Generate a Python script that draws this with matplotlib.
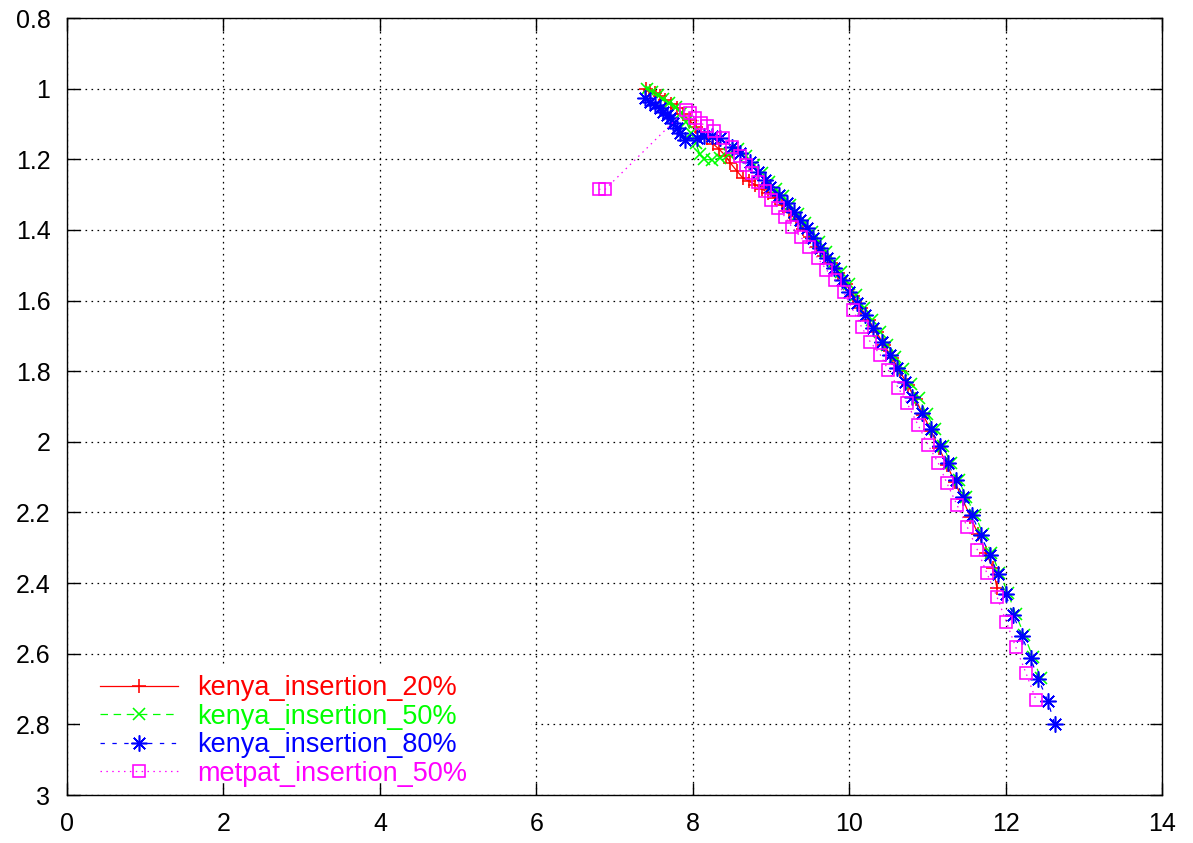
import matplotlib
matplotlib.use("Agg")
import matplotlib.pyplot as plt
from matplotlib.patches import Rectangle

plt.rcParams["font.family"] = ["Liberation Sans", "DejaVu Sans"]

# trayectorias (x, y) de cada serie
k20_x = [7.40, 7.46, 7.52, 7.58, 7.65, 7.72, 7.80, 7.88, 7.96, 8.04, 8.11, 8.18,
         8.26, 8.34, 8.42, 8.48, 8.56, 8.64, 8.72, 8.80, 8.88, 8.96, 9.05, 9.14,
         9.23, 9.32, 9.41, 9.50, 9.59, 9.68, 9.77, 9.86, 9.96, 10.05, 10.15, 10.25,
         10.35, 10.45, 10.55, 10.65, 10.75, 10.85, 10.95, 11.05, 11.15, 11.25, 11.35,
         11.45, 11.55, 11.65, 11.75, 11.84, 11.89]
k20_y = [1.000, 1.006, 1.013, 1.021, 1.031, 1.042, 1.056, 1.072, 1.090, 1.108, 1.124, 1.140,
         1.156, 1.172, 1.190, 1.210, 1.232, 1.253, 1.262, 1.272, 1.283, 1.295, 1.310, 1.330,
         1.350, 1.372, 1.396, 1.420, 1.447, 1.474, 1.495, 1.522, 1.553, 1.587, 1.620, 1.655,
         1.690, 1.727, 1.763, 1.800, 1.840, 1.880, 1.925, 1.970, 2.018, 2.065, 2.113,
         2.162, 2.212, 2.262, 2.315, 2.357, 2.414]

k50_x = [7.42, 7.48, 7.55, 7.62, 7.70, 7.78, 7.85, 7.92, 7.98, 8.04, 8.09, 8.15,
         8.25, 8.35, 8.46, 8.58, 8.68, 8.78, 8.88, 8.97, 9.06, 9.15, 9.25, 9.34,
         9.43, 9.52, 9.62, 9.71, 9.81, 9.90, 10.00, 10.09, 10.19, 10.29, 10.39, 10.49,
         10.59, 10.69, 10.79, 10.89, 10.99, 11.10, 11.20, 11.30, 11.40, 11.50, 11.61,
         11.71, 11.82, 11.92, 12.03, 12.13, 12.24, 12.35, 12.45]
k50_y = [1.000, 1.008, 1.018, 1.028, 1.040, 1.052, 1.068, 1.095, 1.125, 1.155, 1.185, 1.200,
         1.202, 1.196, 1.185, 1.170, 1.190, 1.215, 1.240, 1.265, 1.285, 1.305, 1.330, 1.355,
         1.380, 1.405, 1.435, 1.462, 1.492, 1.520, 1.552, 1.585, 1.620, 1.655, 1.690, 1.725,
         1.760, 1.795, 1.835, 1.875, 1.920, 1.965, 2.012, 2.060, 2.108, 2.157, 2.207,
         2.260, 2.315, 2.370, 2.428, 2.488, 2.548, 2.610, 2.670]

k80_x = [7.39, 7.45, 7.52, 7.58, 7.62, 7.67, 7.71, 7.75, 7.80, 7.84, 7.90, 8.05,
         8.15, 8.25, 8.35, 8.50, 8.61, 8.73, 8.84, 8.92, 8.99, 9.10, 9.21, 9.29,
         9.37, 9.46, 9.54, 9.63, 9.72, 9.80, 9.91, 10.00, 10.10, 10.20, 10.31, 10.42,
         10.52, 10.61, 10.72, 10.80, 10.93, 11.05, 11.16, 11.27, 11.36, 11.46, 11.57,
         11.68, 11.80, 11.90, 12.00, 12.10, 12.21, 12.32, 12.42, 12.54, 12.63]
k80_y = [1.027, 1.038, 1.046, 1.055, 1.066, 1.075, 1.083, 1.097, 1.111, 1.126, 1.145, 1.140,
         1.135, 1.133, 1.140, 1.165, 1.182, 1.208, 1.236, 1.259, 1.278, 1.300, 1.324, 1.349,
         1.372, 1.395, 1.423, 1.451, 1.479, 1.508, 1.542, 1.575, 1.607, 1.641, 1.678, 1.717,
         1.754, 1.791, 1.830, 1.873, 1.917, 1.965, 2.013, 2.061, 2.109, 2.157, 2.206,
         2.265, 2.319, 2.375, 2.432, 2.491, 2.550, 2.613, 2.672, 2.734, 2.800]

m50_x = [6.80, 6.88, 7.91, 7.97, 8.03, 8.10, 8.18, 8.27, 8.39, 8.50, 8.60, 8.68,
         8.76, 8.84, 8.92, 9.00, 9.09, 9.18, 9.27, 9.38, 9.49, 9.60, 9.71, 9.82,
         9.93, 10.05, 10.16, 10.27, 10.40, 10.50, 10.63, 10.74, 10.88, 11.01, 11.14,
         11.25, 11.38, 11.51, 11.64, 11.76, 11.89, 12.01, 12.13, 12.26, 12.39]
m50_y = [1.285, 1.285, 1.060, 1.069, 1.083, 1.097, 1.107, 1.120, 1.140, 1.165, 1.190, 1.215,
         1.240, 1.265, 1.290, 1.315, 1.337, 1.363, 1.392, 1.420, 1.448, 1.480, 1.513, 1.542,
         1.577, 1.627, 1.675, 1.717, 1.754, 1.797, 1.848, 1.890, 1.952, 2.009, 2.060,
         2.117, 2.179, 2.241, 2.306, 2.371, 2.439, 2.510, 2.581, 2.654, 2.731]

labels = ["kenya_insertion_20%", "kenya_insertion_50%",
          "kenya_insertion_80%", "metpat_insertion_50%"]

x_ticks = [0, 2, 4, 6, 8, 10, 12, 14]
y_ticks = [0.8, 1.0, 1.2, 1.4, 1.6, 1.8, 2.0, 2.2, 2.4, 2.6, 2.8, 3.0]
y_ticklabels = ["0.8", "1", "1.2", "1.4", "1.6", "1.8", "2", "2.2", "2.4", "2.6", "2.8", "3"]

fig = plt.figure(figsize=(11.93, 8.43), dpi=100)
ax = fig.add_axes([0.0562, 0.0569, 0.9178, 0.9217])

lw = 0.9
mew = 1.15
ax.plot(k20_x, k20_y, color="#ff0000", lw=lw, ls="-", marker="+", ms=9.5, mew=mew,
        label=labels[0])
ax.plot(k50_x, k50_y, color="#00ff00", lw=lw, ls=(0, (6, 4.5)), marker="x", ms=8, mew=mew,
        label=labels[1])
ax.plot(k80_x, k80_y, color="#0000ff", lw=lw, ls=(0, (3.5, 6)), marker=(8, 2, 0), ms=11.5,
        mew=mew, label=labels[2])
ax.plot(m50_x, m50_y, color="#ff00ff", lw=lw, ls=(0, (1.2, 3.5)), marker="s", ms=8.5,
        mew=mew, mfc="none", label=labels[3])

ax.set_xlim(0, 14)
ax.set_ylim(3, 0.8)
ax.set_xticks(x_ticks)
ax.set_yticks(y_ticks)
ax.set_yticklabels(y_ticklabels)

ax.set_axisbelow(True)
ax.grid(True, color="k", lw=0.9, ls=(0, (1.3, 3.5)))
ax.tick_params(direction="in", length=9, width=1, labelsize=18, pad=12,
               top=True, right=True)
for s in ax.spines.values():
    s.set_linewidth(1.0)

# fondo blanco de la leyenda (tapa la rejilla)
ax.add_patch(Rectangle((0.012, 0.016), 0.412, 0.152, transform=ax.transAxes,
                       facecolor="white", edgecolor="none", zorder=0.8))

leg = ax.legend(loc="upper left", bbox_to_anchor=(0.02, 0.168), frameon=False,
                fontsize=19.5, handlelength=2.9, handletextpad=0.7,
                labelspacing=0.09, borderpad=0.4, borderaxespad=0)
for txt, line in zip(leg.get_texts(), leg.get_lines()):
    txt.set_color(line.get_color())

fig.savefig("out.png", dpi=100)
